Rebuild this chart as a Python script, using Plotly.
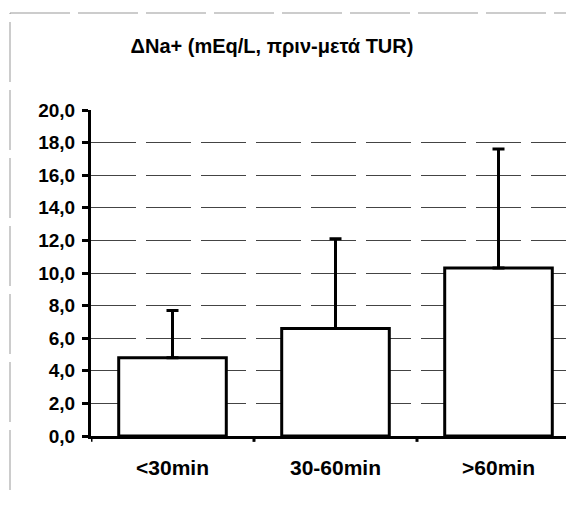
import plotly.graph_objects as go

categories = ["<30min", "30-60min", ">60min"]
means = [4.8, 6.6, 10.3]
sd_plus = [2.9, 5.5, 7.3]
y_ticks = [0, 2, 4, 6, 8, 10, 12, 14, 16, 18, 20]
y_tick_labels = ["0,0", "2,0", "4,0", "6,0", "8,0", "10,0", "12,0", "14,0", "16,0", "18,0", "20,0"]
title_text = "ΔNa+ (mEq/L, πριν-μετά TUR)"

FONT = "Liberation Sans, Arial, sans-serif"
W, H = 574, 507
L, T, B = 83, 102, 79
PW = W - L
PH = H - T - B

fig = go.Figure()
fig.add_trace(go.Bar(
    x=categories, y=means,
    width=0.66,
    marker=dict(color="white", line=dict(color="black", width=3)),
    error_y=dict(type="data", symmetric=False, array=sd_plus,
                 arrayminus=[0] * len(sd_plus),
                 color="black", thickness=3, width=6),
    showlegend=False,
))

fig.update_layout(
    width=W, height=H, autosize=False,
    margin=dict(l=L, r=0, t=T, b=B, autoexpand=False),
    paper_bgcolor="white", plot_bgcolor="white",
    title=dict(text="<b>" + title_text + "</b>", x=264 / W, xanchor="center",
               y=1 - 38 / H, yanchor="middle", automargin=False,
               font=dict(family=FONT, size=20, color="black")),
    xaxis=dict(
        type="category", range=[-0.5, -0.5 + PW / 163], automargin=False,
        showline=True, linecolor="black", linewidth=3,
        ticks="", showgrid=False,
        tickfont=dict(family=FONT, size=21, color="black"),
        tickprefix="<b>", ticksuffix="</b>",
        ticklabelstandoff=11,
    ),
    yaxis=dict(
        range=[0, 20], tickvals=y_ticks, ticktext=["<b>" + t + "</b>" for t in y_tick_labels],
        automargin=False,
        showline=True, linecolor="black", linewidth=3,
        ticks="outside", ticklen=6, tickwidth=3, tickcolor="black",
        showgrid=True, gridcolor="#444", gridwidth=1, griddash="45px,10px",
        tickfont=dict(family=FONT, size=19, color="black"),
        zeroline=False, ticklabelstandoff=3,
    ),
)

# category boundary ticks on the x axis
for b in [-0.5, 0.5, 1.5]:
    fig.add_shape(type="line", xref="x", yref="paper", x0=b, x1=b, y0=0, y1=-0.018,
                  line=dict(color="black", width=3))

# scanned frame border (dashed, grey)
fx = (2 - L) / PW
fy_top = 1 + (T - 5) / PH
fy_bot = -(482 - (H - B)) / PH
fig.add_shape(type="line", xref="paper", yref="paper", x0=fx, x1=fx,
              y0=fy_bot, y1=fy_top,
              line=dict(color="#999", width=1, dash="60px,8px"))
fig.add_shape(type="line", xref="paper", yref="paper", x0=fx, x1=1,
              y0=fy_top, y1=fy_top,
              line=dict(color="#999", width=1, dash="60px,8px"))

fig.write_html("out.html")
